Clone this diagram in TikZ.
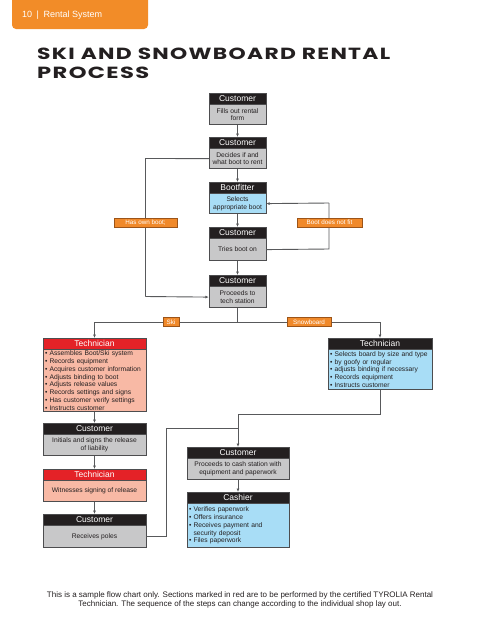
\documentclass[tikz,border=0pt]{standalone}
\usepackage{fontspec}
\setmainfont{Liberation Sans}
\newfontfamily\titlefont{Poppins}[LetterSpace=6]
\usetikzlibrary{arrows.meta}
\definecolor{tabOrange}{HTML}{F28C28}
\definecolor{lblOrange}{HTML}{F0892A}
\definecolor{lblBorder}{HTML}{9C5418}
\definecolor{hdrBlack}{HTML}{231F20}
\definecolor{bodyGray}{HTML}{C8C8C9}
\definecolor{bodyBlue}{HTML}{A8DDF6}
\definecolor{hdrRed}{HTML}{E42227}
\definecolor{bodySalmon}{HTML}{F8B9A5}
\definecolor{lineGray}{HTML}{58595B}
\definecolor{boxLine}{HTML}{4D4D4F}
\definecolor{textDark}{HTML}{231F20}
\begin{document}
\begin{tikzpicture}[x=1pt,y=-1pt,
  hdr/.style={draw=boxLine, fill=hdrBlack, text=white, font=\fontsize{8.5}{9}\selectfont,
    minimum height=11pt, inner sep=0pt, anchor=north},
  hdrred/.style={hdr, fill=hdrRed},
  bodybox/.style={draw=boxLine, anchor=north, inner sep=0pt, align=center,
    text=textDark, font=\fontsize{6.7}{7.7}\selectfont},
  gray/.style={bodybox, fill=bodyGray},
  blue/.style={bodybox, fill=bodyBlue},
  salmon/.style={bodybox, fill=bodySalmon},
  listbox/.style={align=left, inner xsep=2pt, font=\fontsize{6.7}{7.75}\selectfont},
  lbl/.style={draw=lblBorder, fill=lblOrange, text=white, font=\fontsize{6.3}{7}\selectfont,
    minimum height=9pt, inner sep=0pt},
  conn/.style={draw=lineGray, line width=0.9pt},
  arr/.style={conn, -{Latex[length=3.5pt,width=3pt]}}
]
\useasboundingbox (0,0) rectangle (480,640);

% header tab
\fill[tabOrange, rounded corners=4pt] (12,-6) rectangle (148,29);
\node[anchor=west, text=white, inner sep=0pt] (tabtxt) at (22,15.5)
  {\resizebox{80pt}{!}{10\hspace{0.5em}|\hspace{0.5em}Rental System}};

% title
\node[anchor=base west, inner sep=0pt, text=hdrBlack] (title1) at (37,59.5)
  {\resizebox{353pt}{11.5pt}{\titlefont\bfseries SKI AND SNOWBOARD RENTAL}};
\node[anchor=base west, inner sep=0pt, text=hdrBlack] (title2) at (37,78)
  {\resizebox{112pt}{11.5pt}{\titlefont\bfseries PROCESS}};

% main column
\node[hdr, minimum width=57pt] (c1h) at (237.5,93) {Customer};
\node[gray, minimum width=57pt, minimum height=20pt] (c1) at (c1h.south) {Fills out rental\\form};

\node[hdr, minimum width=57pt] (c2h) at (237.5,137) {Customer};
\node[gray, minimum width=57pt, minimum height=20pt] (c2) at (c2h.south) {Decides if and\\what boot to rent};

\node[hdr, minimum width=57pt] (bfh) at (237.5,182) {Bootfitter};
\node[blue, minimum width=57pt, minimum height=20pt] (bf) at (bfh.south) {Selects\\appropriate boot};

\node[hdr, minimum width=57pt] (c4h) at (237.5,227) {Customer};
\node[gray, minimum width=57pt, minimum height=22pt] (c4) at (c4h.south) {Tries boot on};

\node[hdr, minimum width=57pt] (c5h) at (237.5,275) {Customer};
\node[gray, minimum width=57pt, minimum height=21pt] (c5) at (c5h.south) {Proceeds to\\tech station};

% technicians
\node[hdrred, minimum width=103pt] (tLh) at (94.5,338) {Technician};
\node[salmon, listbox, text width=99pt, minimum height=62pt] (tL) at (tLh.south)
  {• Assembles Boot/Ski system\\• Records equipment\\• Acquires customer information\\• Adjusts binding to boot\\• Adjusts release values\\• Records settings and signs\\• Has customer verify settings\\• Instructs customer};

\node[hdr, minimum width=104pt] (tRh) at (380,338) {Technician};
\node[blue, listbox, text width=100pt, minimum height=40pt] (tR) at (tRh.south)
  {• Selects board by size and type\\• by goofy or regular\\• adjusts binding if necessary\\• Records equipment\\• Instructs customer};

% left lower column
\node[hdr, minimum width=103pt] (l1h) at (94.5,423) {Customer};
\node[gray, minimum width=103pt, minimum height=21pt] (l1) at (l1h.south) {Initials and signs the release\\of liability};

\node[hdrred, minimum width=103pt] (l2h) at (94.5,469) {Technician};
\node[salmon, minimum width=103pt, minimum height=21pt] (l2) at (l2h.south) {Witnesses signing of release};

\node[hdr, minimum width=103pt] (l3h) at (94.5,514) {Customer};
\node[gray, minimum width=103pt, minimum height=22pt] (l3) at (l3h.south) {Receives poles};

% cash
\node[hdr, minimum width=102pt] (cah) at (238,447) {Customer};
\node[gray, minimum width=102pt, minimum height=21pt] (ca) at (cah.south) {Proceeds to cash station with\\equipment and paperwork};

\node[hdr, minimum width=102pt] (csh) at (238,492) {Cashier};
\node[blue, listbox, text width=98pt, minimum height=44pt] (cs) at (csh.south)
  {• Verifies paperwork\\• Offers insurance\\• Receives payment and\\\hphantom{• }security deposit\\• Files paperwork};

% coordinates
\coordinate (ownTop) at (145.5,158.5);
\coordinate (ownBot) at (145.5,296.5);
\coordinate (fitR) at (329,249);
\coordinate (fitT) at (329,203);
\coordinate (split) at (237.5,322);
\coordinate (skiC) at (94.5,322);
\coordinate (sbC) at (380,322);
\coordinate (sbBot) at (380,414);
\coordinate (cashTop) at (238,414);
\coordinate (poleR) at (166,536);
\coordinate (poleT) at (166,428);
\coordinate (poleJ) at (238,428);

% connectors
\draw[arr] (c1.south) -- (c2h.north);
\draw[arr] (c2.south) -- (bfh.north);
\draw[arr] (bf.south) -- (c4h.north);
\draw[arr] (c4.south) -- (c5h.north);
\draw[conn] (c2.west) -- (ownTop) -- (ownBot);
\draw[arr] (ownBot) -- (c5.west);
\draw[conn] (c4.east) -- (fitR) -- (fitT);
\draw[arr] (fitT) -- (bf.east);
\draw[conn] (c5.south) -- (split);
\draw[conn] (skiC) -- (sbC);
\draw[arr] (skiC) -- (tLh.north);
\draw[arr] (sbC) -- (tRh.north);
\draw[arr] (tL.south) -- (l1h.north);
\draw[arr] (l1.south) -- (l2h.north);
\draw[arr] (l2.south) -- (l3h.north);
\draw[conn] (tR.south) -- (sbBot) -- (cashTop);
\draw[conn] (l3.east |- poleR) -- (poleR) -- (poleT) -- (poleJ);
\draw[arr] (cashTop) -- (cah.north);
\draw[arr] (ca.south) -- (csh.north);

% labels
\node[lbl, minimum width=63pt] (own) at (145.5,222.5) {Has own boot;};
\node[lbl, minimum width=65pt] (fit) at (329.5,222.5) {Boot does not fit};
\node[lbl, minimum width=16pt] (ski) at (171,322) {Ski};
\node[lbl, minimum width=44pt] (sb) at (309,322) {Snowboard};

% footnote
\node[align=center, text=textDark, font=\fontsize{8}{9}\selectfont, inner sep=0pt] (foot) at (240,599.5)
  {This is a sample flow chart only. Sections marked in red are to be performed by the certified TYROLIA Rental\\Technician. The sequence of the steps can change according to the individual shop lay out.};
\end{tikzpicture}
\end{document}
